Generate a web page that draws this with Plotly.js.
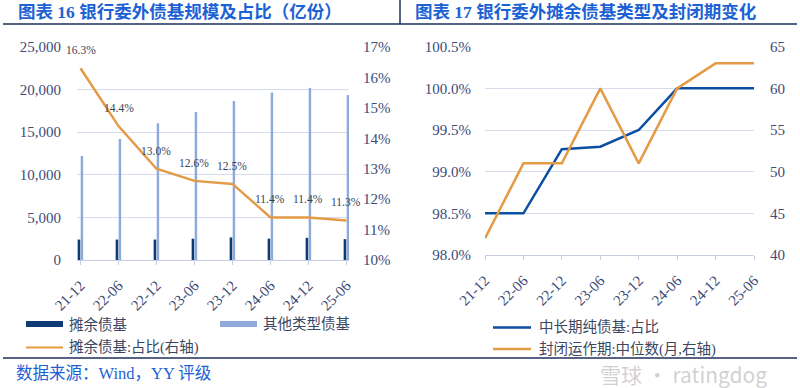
<!DOCTYPE html>
<html>
<head>
<meta charset="utf-8">
<script src="https://cdn.plot.ly/plotly-3.0.1.min.js"></script>
<style>
html,body{margin:0;padding:0;background:#ffffff;}
#chart{width:800px;height:388px;}
</style>
</head>
<body>
<div id="chart"></div>
<script>
// ---- data ----
const categories = ['21-12','22-06','22-12','23-06','23-12','24-06','24-12','25-06'];
const amortizedFunds = [2400, 2400, 2400, 2500, 2650, 2500, 2600, 2450];
const otherFunds = [12200, 14200, 16050, 17370, 18650, 19650, 20200, 19350];
const amortizedShare = [0.163, 0.144, 0.130, 0.126, 0.125, 0.114, 0.114, 0.113];
const midLongShare = [0.985, 0.985, 0.9927, 0.993, 0.995, 1.000, 1.000, 1.000];
const closedPeriodMedian = [42, 51, 51, 60, 51, 60, 63, 63];

const leftNames = ['摊余债基', '其他类型债基', '摊余债基:占比(右轴)'];
const rightNames = ['中长期纯债基:占比', '封闭运作期:中位数(月,右轴)'];
const titleLeft = '图表 16 银行委外债基规模及占比（亿份）';
const titleRight = '图表 17 银行委外摊余债基类型及封闭期变化';
const sourceText = '数据来源：Wind，YY 评级';
const watermark = '雪球 · ratingdog';

// ---- styles ----
const W = 800, H = 388;
const px = x => x / W;
const py = y => 1 - y / H;
const FONT = 'Liberation Serif, "Noto Sans CJK SC", serif';
const CJK = '"Noto Sans CJK SC", sans-serif';
const tickColor = '#3d4b78';
const gridColor = '#d6dcec';
const navy = '#0f3b75';
const lightBlue = '#8eaadb';
const orange = '#e49b45';
const blue = '#0b4ea2';
const titleBlue = '#1c62d4';

const traces = [
  {type:'bar', x:categories, y:amortizedFunds, name:leftNames[0], xaxis:'x', yaxis:'y',
   marker:{color:navy}, width:0.07, offset:-0.075, showlegend:false, hoverinfo:'y'},
  {type:'bar', x:categories, y:otherFunds, name:leftNames[1], xaxis:'x', yaxis:'y',
   marker:{color:lightBlue}, width:0.065, offset:0.005, showlegend:false, hoverinfo:'y'},
  {type:'scatter', mode:'lines', x:categories, y:amortizedShare, name:leftNames[2], xaxis:'x', yaxis:'y2',
   line:{color:orange, width:2.5}, showlegend:false},
  {type:'scatter', mode:'lines', x:categories, y:midLongShare, name:rightNames[0], xaxis:'x2', yaxis:'y3',
   line:{color:blue, width:2.5}, showlegend:false},
  {type:'scatter', mode:'lines', x:categories, y:closedPeriodMedian, name:rightNames[1], xaxis:'x2', yaxis:'y4',
   line:{color:orange, width:2.5}, showlegend:false}
];

const tickFont = {family:FONT, size:15, color:tickColor};
const xTickFont = {family:FONT, size:15, color:tickColor};

const annotations = [];
// data labels on share line
amortizedShare.forEach((v,i)=>{
  annotations.push({xref:'x', yref:'y2', x:categories[i], y:v, yshift:18, showarrow:false,
    text:(v*100).toFixed(1)+'%', font:{family:FONT, size:11.5, color:'#3a3f55'}});
});
// titles
annotations.push({xref:'paper', yref:'paper', x:px(16), y:py(12), xanchor:'left', yanchor:'middle', showarrow:false,
  text:'<b>'+titleLeft+'</b>', font:{family:FONT, size:17.5, color:titleBlue}});
annotations.push({xref:'paper', yref:'paper', x:px(413), y:py(12), xanchor:'left', yanchor:'middle', showarrow:false,
  text:'<b>'+titleRight+'</b>', font:{family:FONT, size:17.5, color:titleBlue}});
// source
annotations.push({xref:'paper', yref:'paper', x:px(14), y:py(373), xanchor:'left', yanchor:'middle', showarrow:false,
  text:sourceText, font:{family:FONT, size:16.5, color:titleBlue}});
// watermark
annotations.push({xref:'paper', yref:'paper', x:px(598), y:py(374), xanchor:'left', yanchor:'middle', showarrow:false,
  text:watermark, font:{family:CJK, size:21, color:'rgba(150,150,150,0.45)'}});
// legend texts
const legFont = {family:FONT, size:14.5, color:'#3d4660'};
[[leftNames[0],67,324],[leftNames[1],261,324],[leftNames[2],67,347],
 [rightNames[0],537,327],[rightNames[1],537,349]].forEach(([t,x,y])=>{
  annotations.push({xref:'paper', yref:'paper', x:px(x), y:py(y), xanchor:'left', yanchor:'middle',
    showarrow:false, text:t, font:legFont});
});

const shapes = [
  // header / footer rules
  {type:'line', xref:'paper', yref:'paper', x0:px(3), x1:px(797), y0:py(24), y1:py(24), line:{color:'#1f2f5c', width:1.5}},
  {type:'line', xref:'paper', yref:'paper', x0:px(400), x1:px(400), y0:py(0), y1:py(24), line:{color:'#1f2f5c', width:1.5}},
  {type:'line', xref:'paper', yref:'paper', x0:px(3), x1:px(797), y0:py(358), y1:py(358), line:{color:'#1f2f5c', width:1.5}},
  // legend swatches
  {type:'rect', xref:'paper', yref:'paper', x0:px(26), x1:px(63), y0:py(321), y1:py(327), fillcolor:navy, line:{width:0}},
  {type:'rect', xref:'paper', yref:'paper', x0:px(220), x1:px(257), y0:py(321), y1:py(327), fillcolor:lightBlue, line:{width:0}},
  {type:'line', xref:'paper', yref:'paper', x0:px(26), x1:px(63), y0:py(347.5), y1:py(347.5), line:{color:orange, width:2}},
  {type:'line', xref:'paper', yref:'paper', x0:px(493), x1:px(531), y0:py(327.5), y1:py(327.5), line:{color:blue, width:2.5}},
  {type:'line', xref:'paper', yref:'paper', x0:px(493), x1:px(531), y0:py(349), y1:py(349), line:{color:orange, width:2.5}}
];

const layout = {
  width:W, height:H,
  margin:{l:0, r:0, t:0, b:0},
  paper_bgcolor:'#ffffff', plot_bgcolor:'rgba(0,0,0,0)',
  barmode:'overlay',
  showlegend:false,
  font:{family:FONT, color:tickColor},
  xaxis:{domain:[px(77), px(349)], anchor:'y', type:'category', range:[-0.092, 7.066],
    tickangle:-45, ticks:'outside', ticklen:4, tickcolor:'#c5cee2', showline:true, linecolor:'#c5cee2',
    showgrid:false, tickfont:xTickFont, ticklabelstandoff:6},
  yaxis:{domain:[py(260), py(47)], anchor:'x', range:[0,25000], dtick:5000, tickformat:',',
    showgrid:true, gridcolor:gridColor, zeroline:false, showline:false, tickfont:tickFont, ticklabelstandoff:15},
  yaxis2:{overlaying:'y', side:'right', anchor:'x', range:[0.10,0.17], dtick:0.01, tickformat:'.0%',
    showgrid:false, zeroline:false, showline:false, tickfont:tickFont, ticklabelstandoff:13},
  xaxis2:{domain:[px(485), px(754)], anchor:'y3', type:'category', range:[0,7],
    tickangle:-45, ticks:'outside', ticklen:4, tickcolor:'#c5cee2', showline:true, linecolor:'#c5cee2',
    showgrid:false, tickfont:xTickFont, ticklabelstandoff:6},
  yaxis3:{domain:[py(255), py(46.7)], anchor:'x2', range:[0.98,1.005], dtick:0.005, tickformat:'.1%',
    showgrid:true, gridcolor:gridColor, zeroline:false, showline:false, tickfont:tickFont, ticklabelstandoff:13},
  yaxis4:{overlaying:'y3', side:'right', anchor:'x2', range:[40,65], dtick:5,
    showgrid:false, zeroline:false, showline:false, tickfont:tickFont, ticklabelstandoff:15},
  annotations:annotations,
  shapes:shapes
};

Plotly.newPlot('chart', traces, layout, {staticPlot:true, displayModeBar:false});
</script>
</body>
</html>
